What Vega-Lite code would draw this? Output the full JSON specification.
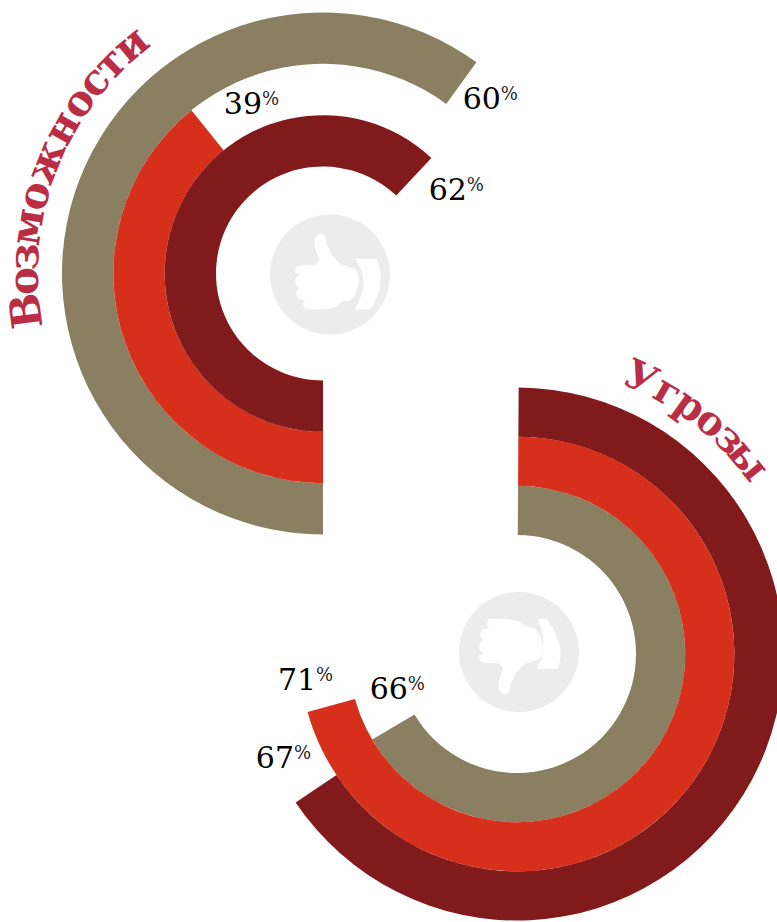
{"$schema":"https://vega.github.io/schema/vega-lite/v6.json","width":777,"height":922,"padding":0,"autosize":{"type":"none"},"background":"white","config":{"view":{"stroke":null}},"datasets":{"arcs":[{"group":"Возможности","series":"A","ring":2,"ring2":3,"start":50,"end":110,"value":60},{"group":"Возможности","series":"B","ring":1,"ring2":2,"start":50,"end":89.2,"value":39},{"group":"Возможности","series":"C","ring":0,"ring2":1,"start":50,"end":112,"value":62},{"group":"Угрозы","series":"A","ring":0,"ring2":1,"start":0.1,"end":66.5,"value":66},{"group":"Угрозы","series":"C","ring":2,"ring2":3,"start":0.1,"end":65.6,"value":67},{"group":"Угрозы","series":"B","ring":1,"ring2":2,"start":0.1,"end":70.7,"value":71}],"labels":[{"group":"Возможности","label":"60","unit":"%","at":113.1,"ringAt":2.64},{"group":"Возможности","label":"39","unit":"%","at":94.2,"ringAt":1.25},{"group":"Возможности","label":"62","unit":"%","at":117.5,"ringAt":1.06},{"group":"Угрозы","label":"71","unit":"%","at":72.2,"ringAt":1.73},{"group":"Угрозы","label":"66","unit":"%","at":68.8,"ringAt":-0.02},{"group":"Угрозы","label":"67","unit":"%","at":67.5,"ringAt":2.67}],"titles":[{"group":"Возможности","ch":"В","at":73.0,"ringAt":3.47,"turn":262.7},{"group":"Возможности","ch":"о","at":74.6,"ringAt":3.47,"turn":268.5},{"group":"Возможности","ch":"з","at":75.9,"ringAt":3.47,"turn":273.4},{"group":"Возможности","ch":"м","at":77.5,"ringAt":3.47,"turn":279.1},{"group":"Возможности","ch":"о","at":79.2,"ringAt":3.47,"turn":285.2},{"group":"Возможности","ch":"ж","at":81.1,"ringAt":3.47,"turn":292},{"group":"Возможности","ch":"н","at":83.1,"ringAt":3.47,"turn":299.3},{"group":"Возможности","ch":"о","at":84.7,"ringAt":3.47,"turn":305},{"group":"Возможности","ch":"с","at":86.1,"ringAt":3.47,"turn":309.9},{"group":"Возможности","ch":"т","at":87.4,"ringAt":3.47,"turn":314.7},{"group":"Возможности","ch":"и","at":88.9,"ringAt":3.47,"turn":320.1},{"group":"Угрозы","ch":"У","at":6.7,"ringAt":3.47,"turn":24.7},{"group":"Угрозы","ch":"г","at":8.3,"ringAt":3.47,"turn":30.4},{"group":"Угрозы","ch":"р","at":9.7,"ringAt":3.47,"turn":35.3},{"group":"Угрозы","ch":"о","at":11.1,"ringAt":3.47,"turn":40.4},{"group":"Угрозы","ch":"з","at":12.4,"ringAt":3.47,"turn":45.1},{"group":"Угрозы","ch":"ы","at":13.9,"ringAt":3.45,"turn":50.7}]},"encoding":{"x":{"field":"group","type":"nominal","axis":null,"scale":{"type":"point","domain":["Возможности","Угрозы"],"range":[323,517],"padding":0}},"y":{"field":"group","type":"nominal","axis":null,"scale":{"type":"point","domain":["Возможности","Угрозы"],"range":[273.5,654],"padding":0}}},"layer":[{"layer":[{"data":{"values":[{"group":"Возможности"}]},"mark":{"type":"point","filled":true,"size":14400,"shape":"circle","fill":"#EBECEB","opacity":1,"strokeWidth":0,"xOffset":7,"yOffset":1},"encoding":{}},{"data":{"values":[{"group":"Возможности"}]},"mark":{"type":"point","filled":true,"size":14400,"fill":"white","opacity":1,"strokeWidth":0,"xOffset":7,"yOffset":1,"shape":"M-.25 -.594L-.22 -.64L-.167 -.678L-.11 -.665L-.072 -.622L-.056 -.511L.028 -.317L.167 -.178L.322 -.122L.417 -.094L.47 0L.483 .1L.46 .23L.417 .35L.333 .433L.211 .45L.083 .544L-.111 .583L-.417 .583L-.456 .489L-.417 .422L-.528 .406L-.567 .322L-.511 .222L-.567 .167L-.583 .083L-.511 .006L-.583 -.039L-.567 -.122L-.5 -.15L-.25 -.161L-.178 -.233L-.211 -.344L-.261 -.483ZM.417 -.261L.778 -.261L.844 -.039L.833 .239L.722 .517L.639 .583L.406 .583L.489 .433L.567 .183L.528 -.067Z"},"encoding":{}},{"data":{"name":"arcs"},"transform":[{"filter":"datum.group==='Возможности'"}],"mark":{"type":"arc","stroke":null},"encoding":{"theta":{"field":"start","type":"quantitative","stack":null,"scale":{"type":"linear","domain":[0,100],"range":[0,6.283185]}},"theta2":{"field":"end"},"radius":{"field":"ring","type":"quantitative","scale":{"type":"linear","domain":[0,3],"range":[107,261],"zero":false}},"radius2":{"field":"ring2"},"color":{"field":"series","type":"nominal","legend":null,"scale":{"domain":["A","B","C"],"range":["#8A7F60","#D62F1C","#811A1A"]}}}},{"data":{"name":"labels"},"transform":[{"filter":"datum.group==='Возможности'"}],"mark":{"type":"text","font":"DejaVu Serif","fontSize":30,"align":"right","baseline":"alphabetic","color":"#000000"},"encoding":{"theta":{"field":"at","type":"quantitative","stack":null,"scale":{"type":"linear","domain":[0,100],"range":[0,6.283185]}},"radius":{"field":"ringAt","type":"quantitative","scale":{"type":"linear","domain":[0,3],"range":[107,261],"zero":false}},"text":{"field":"label"}}},{"data":{"name":"labels"},"transform":[{"filter":"datum.group==='Возможности'"}],"mark":{"type":"text","font":"DejaVu Serif","fontSize":18,"align":"left","baseline":"alphabetic","dy":-9,"color":"#222222"},"encoding":{"theta":{"field":"at","type":"quantitative","stack":null,"scale":{"type":"linear","domain":[0,100],"range":[0,6.283185]}},"radius":{"field":"ringAt","type":"quantitative","scale":{"type":"linear","domain":[0,3],"range":[107,261],"zero":false}},"text":{"field":"unit"}}},{"data":{"name":"titles"},"transform":[{"filter":"datum.group==='Возможности'"}],"mark":{"type":"text","font":"DejaVu Serif","fontSize":42,"fontWeight":"bold","align":"center","baseline":"alphabetic","color":"#B92E45"},"encoding":{"theta":{"field":"at","type":"quantitative","stack":null,"scale":{"type":"linear","domain":[0,100],"range":[0,6.283185]}},"radius":{"field":"ringAt","type":"quantitative","scale":{"type":"linear","domain":[0,3],"range":[107,261],"zero":false}},"angle":{"field":"turn","type":"quantitative","scale":{"type":"linear","domain":[0,360],"range":[0,360]}},"text":{"field":"ch"}}}]},{"layer":[{"data":{"values":[{"group":"Угрозы"}]},"mark":{"type":"point","filled":true,"size":14400,"shape":"circle","fill":"#EBECEB","opacity":1,"strokeWidth":0,"xOffset":2,"yOffset":-2},"encoding":{}},{"data":{"values":[{"group":"Угрозы"}]},"mark":{"type":"point","filled":true,"size":14400,"fill":"white","opacity":1,"strokeWidth":0,"xOffset":2,"yOffset":-2,"shape":"M-.335 .624L-.3 .67L-.252 .708L-.195 .695L-.157 .652L-.141 .541L-.057 .347L.082 .208L.237 .152L.332 .124L.385 .03L.398 -.07L.375 -.2L.332 -.32L.248 -.403L.126 -.42L-.002 -.514L-.196 -.553L-.502 -.553L-.541 -.459L-.502 -.392L-.613 -.376L-.652 -.292L-.596 -.192L-.652 -.137L-.668 -.053L-.596 .024L-.668 .069L-.652 .152L-.585 .18L-.335 .191L-.263 .263L-.296 .374L-.346 .513ZM.306 -.556L.461 -.556L.572 -.389L.683 -.111L.694 .083L.656 .278L.294 .289L.394 .028L.406 -.194L.378 -.389Z"},"encoding":{}},{"data":{"name":"arcs"},"transform":[{"filter":"datum.group==='Угрозы'"}],"mark":{"type":"arc","stroke":null},"encoding":{"theta":{"field":"start","type":"quantitative","stack":null,"scale":{"type":"linear","domain":[0,100],"range":[0,6.283185]}},"theta2":{"field":"end"},"radius":{"field":"ring","type":"quantitative","scale":{"type":"linear","domain":[0,3],"range":[119,266.5],"zero":false}},"radius2":{"field":"ring2"},"color":{"field":"series","type":"nominal","legend":null,"scale":{"domain":["A","B","C"],"range":["#8A7F60","#D62F1C","#811A1A"]}}}},{"data":{"name":"labels"},"transform":[{"filter":"datum.group==='Угрозы'"}],"mark":{"type":"text","font":"DejaVu Serif","fontSize":30,"align":"right","baseline":"alphabetic","color":"#000000"},"encoding":{"theta":{"field":"at","type":"quantitative","stack":null,"scale":{"type":"linear","domain":[0,100],"range":[0,6.283185]}},"radius":{"field":"ringAt","type":"quantitative","scale":{"type":"linear","domain":[0,3],"range":[119,266.5],"zero":false}},"text":{"field":"label"}}},{"data":{"name":"labels"},"transform":[{"filter":"datum.group==='Угрозы'"}],"mark":{"type":"text","font":"DejaVu Serif","fontSize":18,"align":"left","baseline":"alphabetic","dy":-9,"color":"#222222"},"encoding":{"theta":{"field":"at","type":"quantitative","stack":null,"scale":{"type":"linear","domain":[0,100],"range":[0,6.283185]}},"radius":{"field":"ringAt","type":"quantitative","scale":{"type":"linear","domain":[0,3],"range":[119,266.5],"zero":false}},"text":{"field":"unit"}}},{"data":{"name":"titles"},"transform":[{"filter":"datum.group==='Угрозы'"}],"mark":{"type":"text","font":"DejaVu Serif","fontSize":40,"fontWeight":"bold","align":"center","baseline":"alphabetic","color":"#B92E45"},"encoding":{"theta":{"field":"at","type":"quantitative","stack":null,"scale":{"type":"linear","domain":[0,100],"range":[0,6.283185]}},"radius":{"field":"ringAt","type":"quantitative","scale":{"type":"linear","domain":[0,3],"range":[119,266.5],"zero":false}},"angle":{"field":"turn","type":"quantitative","scale":{"type":"linear","domain":[0,360],"range":[0,360]}},"text":{"field":"ch"}}}]}],"resolve":{"scale":{"radius":"independent"}}}
